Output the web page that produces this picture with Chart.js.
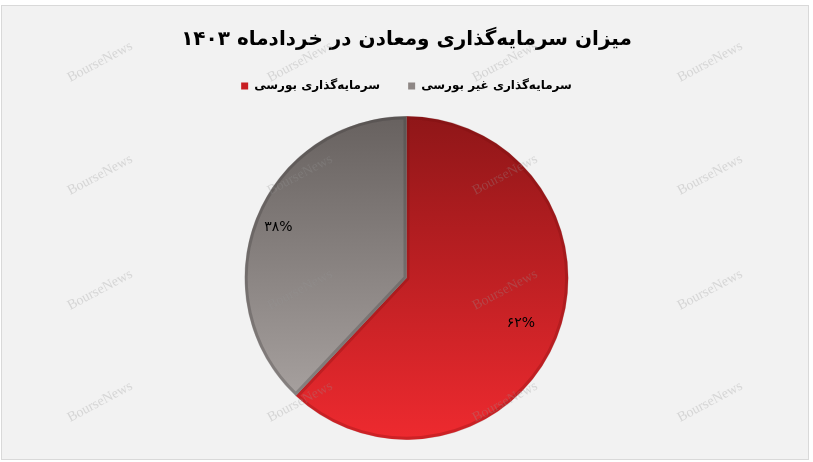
<!DOCTYPE html>
<html>
<head>
<meta charset="utf-8">
<script src="https://cdn.jsdelivr.net/npm/chart.js@4"></script>
<style>
  html, body { margin: 0; padding: 0; background: #fff; }
  #wrap { width: 813px; height: 462px; position: relative; }
</style>
</head>
<body>
<div id="wrap"><canvas id="chart1"></canvas></div>
<script>
// Données du graphique
const titre = 'میزان سرمایه‌گذاری ومعادن در خردادماه ۱۴۰۳';
const categories = ['سرمایه‌گذاری بورسی', 'سرمایه‌گذاری غیر بورسی'];
const valeurs = [62, 38];
const couleursLegende = ['#c81e22', '#8e8785'];
const positionsEtiquettes = [0.76, 0.85]; // fraction du rayon
const rayon = 162;

// Conversion des chiffres en chiffres persans
function enPersan(n) {
    const chiffres = '۰۱۲۳۴۵۶۷۸۹';
    return String(n).replace(/[0-9]/g, d => chiffres[d]);
}

// Dégradés verticaux pour les parts
function degrade(ctx, area, haut, bas) {
    const cy = (area.top + area.bottom) / 2;
    const g = ctx.createLinearGradient(0, cy - rayon, 0, cy + rayon);
    g.addColorStop(0, haut);
    g.addColorStop(1, bas);
    return g;
}

const fondPlugin = {
    id: 'fond',
    beforeDraw(chart) {
        const ctx = chart.ctx;
        ctx.save();
        ctx.fillStyle = '#ffffff';
        ctx.fillRect(0, 0, chart.width, chart.height);
        ctx.fillStyle = '#f2f2f2';
        ctx.fillRect(1.5, 5.5, 807, 454);
        ctx.strokeStyle = '#d9d9d9';
        ctx.lineWidth = 1;
        ctx.strokeRect(1.5, 5.5, 807, 454);
        ctx.restore();
    }
};

// Étiquettes de pourcentage sur les parts
const etiquettesPlugin = {
    id: 'etiquettes',
    afterDatasetsDraw(chart) {
        const ctx = chart.ctx;
        const meta = chart.getDatasetMeta(0);
        ctx.save();
        ctx.font = '14px "DejaVu Sans"';
        ctx.fillStyle = '#000';
        ctx.textAlign = 'center';
        ctx.textBaseline = 'middle';
        meta.data.forEach((arc, i) => {
            const mid = (arc.startAngle + arc.endAngle) / 2;
            const r = arc.outerRadius * positionsEtiquettes[i];
            const x = arc.x + Math.cos(mid) * r;
            const y = arc.y + Math.sin(mid) * r;
            ctx.fillText(enPersan(valeurs[i]) + '%', x, y);
        });
        ctx.restore();
    }
};

// Filigrane BourseNews
const filigranePlugin = {
    id: 'filigrane',
    afterDraw(chart) {
        const ctx = chart.ctx;
        const xs = [100, 300, 505, 710];
        const ys = [62, 175, 290, 402];
        ctx.save();
        ctx.font = '14px "Liberation Serif"';
        ctx.fillStyle = 'rgba(150,150,150,0.3)';
        ctx.textAlign = 'center';
        ctx.textBaseline = 'middle';
        xs.forEach(x => {
            ys.forEach(y => {
                ctx.save();
                ctx.translate(x, y);
                ctx.rotate(-28 * Math.PI / 180);
                ctx.fillText('BourseNews', 0, 0);
                ctx.restore();
            });
        });
        ctx.restore();
    }
};

const chart1 = new Chart(document.getElementById('chart1'), {
    type: 'pie',
    data: {
        labels: categories,
        datasets: [{
            data: valeurs,
            backgroundColor: function (context) {
                const area = context.chart.chartArea;
                if (!area) return couleursLegende[context.dataIndex];
                if (context.dataIndex === 0) {
                    return degrade(context.chart.ctx, area, '#8f1618', '#ee2a2f');
                }
                return degrade(context.chart.ctx, area, '#67615f', '#b0aaa8');
            },
            borderColor: ['rgba(110,10,10,0.25)', 'rgba(60,55,55,0.3)'],
            borderWidth: 3,
            borderAlign: 'inner'
        }]
    },
    options: {
        responsive: true,
        maintainAspectRatio: false,
        animation: false,
        radius: rayon,
        layout: { padding: { top: 0, bottom: 8, left: 0, right: 0 } },
        plugins: {
            title: {
                display: true,
                text: titre,
                color: '#000',
                font: { family: '"DejaVu Sans"', size: 20, weight: 'bold' },
                padding: { top: 28, bottom: 0 }
            },
            legend: {
                position: 'top',
                labels: {
                    color: '#000',
                    font: { family: '"DejaVu Sans"', size: 12, weight: 'bold' },
                    boxWidth: 7,
                    boxHeight: 7,
                    padding: 28,
                    generateLabels: function (chart) {
                        return categories.map((c, i) => ({
                            text: c,
                            fillStyle: couleursLegende[i],
                            strokeStyle: couleursLegende[i],
                            lineWidth: 0,
                            index: i,
                            hidden: false
                        }));
                    }
                }
            },
            tooltip: { enabled: false }
        }
    },
    plugins: [fondPlugin, etiquettesPlugin, filigranePlugin]
});
</script>
</body>
</html>
